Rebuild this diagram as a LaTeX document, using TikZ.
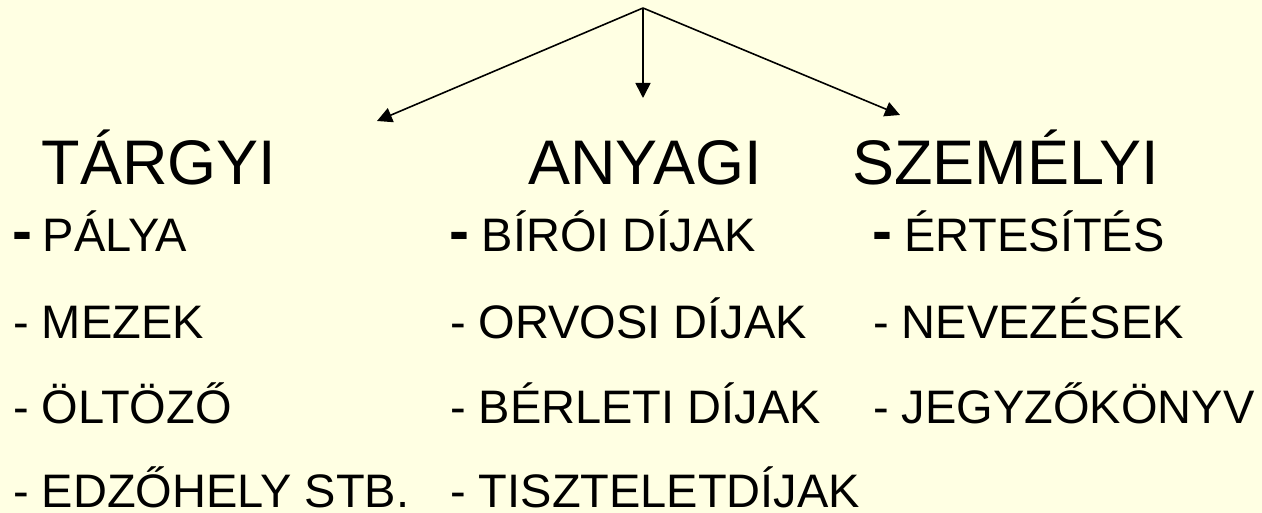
\documentclass[tikz,border=0pt]{standalone}
\usepackage{fontspec}
\setmainfont{Liberation Sans}
\usetikzlibrary{arrows.meta}
\definecolor{bgcream}{HTML}{FFFFE3}
\newcommand{\firstdash}{{\fontsize{60}{70}\selectfont\bfseries -}}
\tikzset{
  head/.style={anchor=base west, inner sep=0pt, font=\fontsize{63}{70}\selectfont},
  item/.style={anchor=base west, inner sep=0pt, font=\fontsize{47}{56}\selectfont},
  conn/.style={line width=1.6pt, -{Triangle[length=15pt,width=15pt]}}
}
\begin{document}
\begin{tikzpicture}[x=1pt,y=-1pt]
\fill[bgcream] (0,0) rectangle (1262,513);
\useasboundingbox (0,0) rectangle (1262,513);
% connectors
\coordinate (apex) at (643,8);
\coordinate (tl) at (377,121);
\coordinate (tm) at (643,98);
\coordinate (tr) at (900,115);
\draw[conn] (apex) -- (tl);
\draw[conn] (apex) -- (tm);
\draw[conn] (apex) -- (tr);
% headers
\node[head] (h1) at (41.5,185) {TÁRGYI};
\node[head] (h2) at (528,185) {ANYAGI};
\node[head] (h3) at (852,185) {SZEMÉLYI};
% left column
\node[item] (l1) at (12.5,252) {\firstdash\hspace{10pt}PÁLYA};
\node[item] (l2) at (13,338) {- MEZEK};
\node[item] (l3) at (13,423) {- ÖLTÖZŐ};
\node[item] (l4) at (13,507) {- EDZŐHELY STB.};
% middle column
\node[item] (m1) at (449.5,252) {\firstdash\hspace{12pt}BÍRÓI DÍJAK};
\node[item] (m2) at (450,338) {- ORVOSI DÍJAK};
\node[item] (m3) at (450,423) {- BÉRLETI DÍJAK};
\node[item] (m4) at (450,507) {- TISZTELETDÍJAK};
% right column
\node[item] (r1) at (872.5,252) {\firstdash\hspace{11.5pt}ÉRTESÍTÉS};
\node[item] (r2) at (873,338) {- NEVEZÉSEK};
\node[item] (r3) at (873,423) {- JEGYZŐKÖNYV};
\end{tikzpicture}
\end{document}
